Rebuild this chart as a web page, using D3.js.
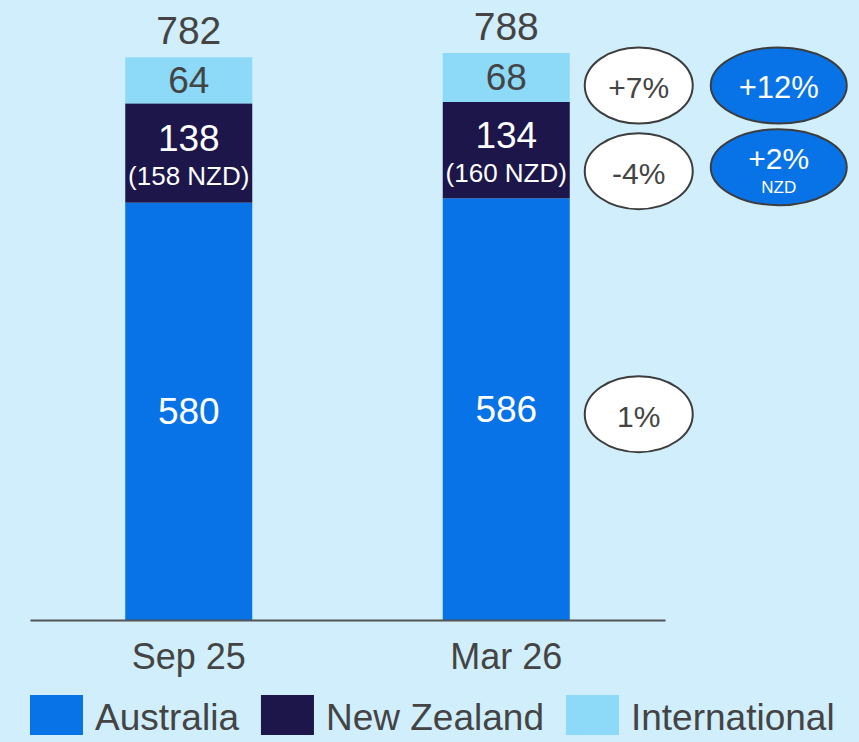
<!DOCTYPE html>
<html lang="en">
<head>
  <meta charset="UTF-8">
  <title>Stacked bars</title>
  <script src="https://d3js.org/d3.v7.min.js"></script>
  <style>
    html, body { margin: 0; padding: 0; background: #d0eefb; }
    svg { display: block; font-family: "Liberation Sans", Arial, sans-serif; }
    .lbl { fill: #444; }
  </style>
</head>
<body>
  <svg id="chart" width="859" height="742"></svg>
  <script>
    // data
    const categories = ["Sep 25", "Mar 26"];
    const australia = [580, 586];
    const newZealand = [138, 134];
    const international = [64, 68];
    const nzdValues = [158, 160];
    const seriesNames = ["Australia", "New Zealand", "International"];
    const seriesColors = ["#0873e6", "#1c164b", "#8cdaf8"];
    const changeLabels = ["1%", "-4%", "+7%"];          // white bubbles, per series
    const ccyLabels = [null, "+2%", "+12%"];           // blue bubbles, per series
    const ccySub = [null, "NZD", null];

    const svg = d3.select("#chart");
    const W = 859, H = 742;
    svg.append("rect").attr("width", W).attr("height", H).attr("fill", "#d0eefb");

    const x = d3.scaleBand().domain(categories).range([30, 665])
      .paddingInner(0.6).paddingOuter(0.3);
    const y = d3.scaleLinear().domain([0, 788]).range([620, 53]);

    const rows = categories.map((c, i) => ({
      cat: c, Australia: australia[i], "New Zealand": newZealand[i], International: international[i]
    }));
    const stack = d3.stack().keys(seriesNames)(rows);
    const color = d3.scaleOrdinal().domain(seriesNames).range(seriesColors);

    // bars
    svg.append("g").selectAll("g").data(stack).join("g")
      .attr("fill", d => color(d.key))
      .selectAll("rect").data(d => d).join("rect")
      .attr("x", d => x(d.data.cat))
      .attr("width", x.bandwidth())
      .attr("y", d => y(d[1]))
      .attr("height", d => y(d[0]) - y(d[1]));

    // segment labels
    const segLabels = svg.append("g").attr("text-anchor", "middle");
    stack.forEach((s, si) => {
      s.forEach((d, i) => {
        const cx = x(d.data.cat) + x.bandwidth() / 2;
        const mid = y((d[0] + d[1]) / 2);
        const fill = si === 2 ? "#444" : "#fff";
        if (s.key === "New Zealand") {
          segLabels.append("text").attr("x", cx).attr("y", mid - 15).attr("dy", "0.35em")
            .attr("font-size", 37).attr("fill", fill).text(d[1] - d[0]);
          segLabels.append("text").attr("x", cx).attr("y", mid + 23).attr("dy", "0.35em")
            .attr("font-size", 26).attr("fill", fill).text(`(${nzdValues[i]} NZD)`);
        } else {
          segLabels.append("text").attr("x", cx).attr("y", mid).attr("dy", "0.35em")
            .attr("font-size", 37).attr("fill", fill).text(d[1] - d[0]);
        }
      });
    });

    // totals
    const topSeries = stack[stack.length - 1];
    svg.append("g").attr("text-anchor", "middle").selectAll("text").data(topSeries).join("text")
      .attr("class", "lbl")
      .attr("x", d => x(d.data.cat) + x.bandwidth() / 2)
      .attr("y", d => y(d[1]) - 13)
      .attr("font-size", 39)
      .text(d => d[1]);

    // axis
    const axis = svg.append("g").attr("transform", "translate(0,620)")
      .call(d3.axisBottom(x).tickSize(0).tickSizeOuter(0).tickPadding(23));
    axis.select(".domain").attr("stroke", "#555").attr("stroke-width", 2);
    axis.selectAll("text").attr("font-size", 36).attr("fill", "#444")
      .attr("font-family", "Liberation Sans, Arial, sans-serif");

    // change bubbles, placed beside the last bar
    const last = categories.length - 1;
    const col1 = x(categories[last]) + x.bandwidth() + 69;
    const col2 = col1 + 140;
    const nudge = [5, 21, 8];
    const bub = svg.append("g").attr("text-anchor", "middle");
    seriesNames.forEach((name, si) => {
      const d = stack[si][last];
      const cy = y((d[0] + d[1]) / 2) + nudge[si];
      bub.append("ellipse").attr("cx", col1).attr("cy", cy).attr("rx", 54).attr("ry", 38)
        .attr("fill", "#fff").attr("stroke", "#3d3d3d").attr("stroke-width", 2);
      bub.append("text").attr("class", "lbl").attr("x", col1).attr("y", cy + 2).attr("dy", "0.35em")
        .attr("font-size", 30).text(changeLabels[si]);
      if (ccyLabels[si]) {
        const cy2 = cy - (ccySub[si] ? 4 : 0);
        bub.append("ellipse").attr("cx", col2).attr("cy", cy2).attr("rx", 68).attr("ry", 38)
          .attr("fill", "#0873e6").attr("stroke", "#3d3d3d").attr("stroke-width", 2);
        if (ccySub[si]) {
          bub.append("text").attr("x", col2).attr("y", cy2 - 9).attr("dy", "0.35em")
            .attr("font-size", 30).attr("fill", "#fff").text(ccyLabels[si]);
          bub.append("text").attr("x", col2).attr("y", cy2 + 20).attr("dy", "0.35em")
            .attr("font-size", 17).attr("fill", "#fff").text(ccySub[si]);
        } else {
          bub.append("text").attr("x", col2).attr("y", cy2 + 2).attr("dy", "0.35em")
            .attr("font-size", 31).attr("fill", "#fff").text(ccyLabels[si]);
        }
      }
    });

    // legend
    const legend = svg.append("g").attr("transform", "translate(30,695)");
    let lx = 0;
    seriesNames.forEach((name, i) => {
      const g = legend.append("g").attr("transform", `translate(${lx},0)`);
      g.append("rect").attr("width", 53).attr("height", 40).attr("fill", seriesColors[i]);
      const t = g.append("text").attr("class", "lbl").attr("x", 65).attr("y", 35)
        .attr("font-size", 37).text(name);
      lx += 65 + t.node().getComputedTextLength() + 22;
    });
  </script>
</body>
</html>
